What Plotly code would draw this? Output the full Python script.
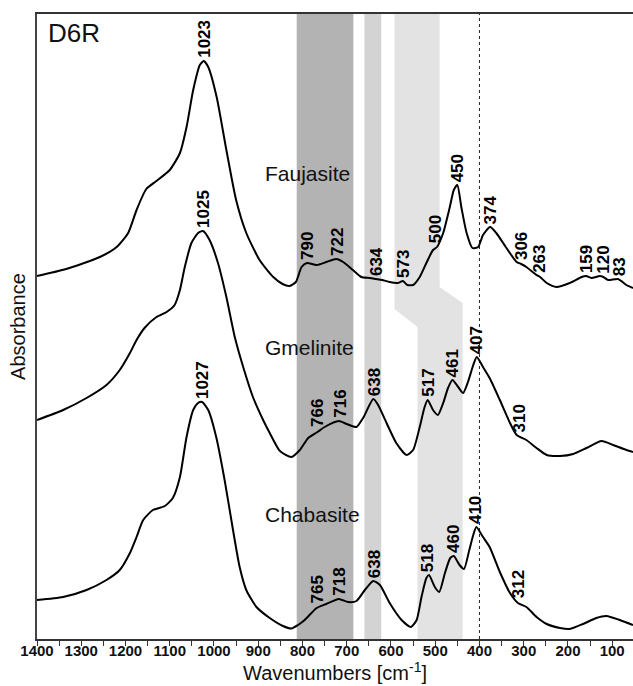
import numpy as np
import plotly.graph_objects as go

# ---------------- data ----------------
wn_fau = [1400, 1334, 1258, 1220, 1194, 1175, 1153, 1130, 1100, 1077, 1062, 1047, 1032, 1023,
          1013, 994, 972, 950, 927, 897, 866, 845, 829, 815, 802, 790, 768, 746, 724, 708,
          686, 667, 648, 634, 620, 603, 585, 573, 563, 550, 535, 520, 505, 496, 482, 467,
          458, 450, 441, 429, 416, 403, 392, 376, 362, 339, 316, 306, 294, 271, 263, 248,
          226, 196, 169, 159, 147, 128, 120, 109, 87, 68, 53]
abs_fau = [3.63, 3.70, 3.82, 3.92, 4.06, 4.29, 4.50, 4.58, 4.69, 4.86, 5.12, 5.49, 5.74, 5.78,
           5.72, 5.42, 4.89, 4.39, 4.06, 3.79, 3.62, 3.55, 3.53, 3.57, 3.72, 3.76, 3.74, 3.77,
           3.80, 3.77, 3.69, 3.62, 3.61, 3.60, 3.59, 3.57, 3.56, 3.58, 3.54, 3.54, 3.62, 3.76,
           3.89, 3.92, 4.06, 4.32, 4.49, 4.54, 4.32, 4.06, 3.91, 3.92, 4.04, 4.12, 4.06, 3.91,
           3.77, 3.75, 3.72, 3.64, 3.62, 3.56, 3.52, 3.56, 3.62, 3.63, 3.61, 3.63, 3.62, 3.59,
           3.60, 3.54, 3.51]

wn_gme = [1400, 1341, 1288, 1243, 1213, 1190, 1175, 1157, 1130, 1107, 1089, 1077, 1066, 1051,
          1036, 1025, 1010, 991, 972, 953, 934, 912, 889, 874, 851, 825, 806, 787, 766, 750,
          718, 700, 678, 663, 640, 629, 610, 588, 565, 550, 535, 524, 517, 505, 494, 482,
          471, 461, 448, 437, 426, 414, 406, 392, 377, 354, 331, 316, 294, 271, 248, 218,
          188, 158, 124, 98, 68, 53]
abs_gme = [2.19, 2.29, 2.41, 2.54, 2.69, 2.86, 2.99, 3.11, 3.22, 3.27, 3.34, 3.49, 3.72, 3.96,
           4.06, 4.08, 3.99, 3.76, 3.42, 3.02, 2.72, 2.42, 2.19, 2.06, 1.88, 1.82, 1.89, 2.01,
           2.07, 2.12, 2.18, 2.15, 2.12, 2.21, 2.40, 2.34, 2.16, 1.96, 1.84, 1.89, 2.12, 2.32,
           2.39, 2.29, 2.24, 2.36, 2.51, 2.59, 2.52, 2.46, 2.57, 2.74, 2.82, 2.72, 2.61, 2.39,
           2.16, 2.04, 1.99, 1.91, 1.84, 1.83, 1.85, 1.91, 1.98, 1.94, 1.89, 1.87]

wn_cha = [1400, 1341, 1288, 1243, 1213, 1190, 1175, 1160, 1138, 1111, 1093, 1077, 1062, 1047,
          1036, 1027, 1013, 995, 976, 957, 942, 927, 904, 874, 844, 825, 810, 795, 768, 746,
          718, 697, 678, 659, 640, 625, 603, 576, 555, 542, 531, 520, 514, 501, 491, 478,
          466, 458, 445, 435, 423, 414, 407, 392, 377, 354, 331, 313, 294, 271, 248, 218,
          196, 166, 136, 113, 83, 53]
abs_cha = [0.39, 0.42, 0.49, 0.59, 0.69, 0.86, 1.02, 1.19, 1.29, 1.33, 1.41, 1.62, 2.02, 2.29,
           2.36, 2.37, 2.29, 2.02, 1.59, 1.09, 0.72, 0.49, 0.32, 0.21, 0.13, 0.105, 0.14, 0.19,
           0.31, 0.35, 0.40, 0.37, 0.38, 0.49, 0.58, 0.54, 0.36, 0.19, 0.12, 0.19, 0.42, 0.61,
           0.64, 0.52, 0.47, 0.66, 0.81, 0.83, 0.74, 0.70, 0.89, 1.04, 1.12, 1.02, 0.92, 0.67,
           0.46, 0.36, 0.32, 0.22, 0.15, 0.11, 0.10, 0.15, 0.21, 0.23, 0.19, 0.14]

peaks_fau = [1023, 790, 722, 634, 573, 500, 450, 374, 306, 263, 159, 120, 83]
peaks_gme = [1025, 766, 716, 638, 517, 461, 407, 310]
peaks_cha = [1027, 765, 718, 638, 518, 460, 410, 312]

series_names = ["Faujasite", "Gmelinite", "Chabasite"]

band_dark = [813, 685]
band_mid = [660, 622]
band_light_upper = [592, 490]
band_light_lower = [540, 438]

x_tick_vals = list(range(100, 1401, 100))
x_tick_text = [str(v) for v in x_tick_vals]
x_minor_vals = list(range(150, 1400, 100))

# ---------------- figure ----------------
FONT = "Arial, 'Liberation Sans', sans-serif"
YMAX = 6.25
fig = go.Figure()

# bands
fig.add_shape(type="rect", xref="x", yref="y", x0=band_dark[0], x1=band_dark[1], y0=0, y1=YMAX,
              fillcolor="#b3b3b3", line_width=0, layer="below")
fig.add_shape(type="rect", xref="x", yref="y", x0=band_mid[0], x1=band_mid[1], y0=0, y1=YMAX,
              fillcolor="#d3d3d3", line_width=0, layer="below")
a, b = band_light_upper
c, d = band_light_lower
path = (f"M {a},{YMAX} L {b},{YMAX} L {b},3.52 L {d},3.36 L {d},0 "
        f"L {c},0 L {c},3.12 L {a},3.30 Z")
fig.add_shape(type="path", xref="x", yref="y", path=path,
              fillcolor="#e3e3e3", line_width=0, layer="below")
fig.add_shape(type="line", xref="x", yref="y", x0=400, x1=400, y0=0, y1=YMAX,
              line=dict(color="#222", width=1, dash="dot"), layer="below")

all_series = [(wn_fau, abs_fau, peaks_fau), (wn_gme, abs_gme, peaks_gme), (wn_cha, abs_cha, peaks_cha)]
for name, (wn, ab, pk) in zip(series_names, all_series):
    fig.add_trace(go.Scatter(x=wn, y=ab, mode="lines", name=name,
                             line=dict(color="black", width=2, shape="spline", smoothing=0.6),
                             showlegend=False, hoverinfo="skip"))
    xs = np.array(wn[::-1], dtype=float)
    ys = np.array(ab[::-1], dtype=float)
    for p in pk:
        grid = np.linspace(p - 5, p + 5, 11)
        yv = float(np.max(np.interp(grid, xs, ys)))
        fig.add_annotation(x=p, y=yv, text=str(p), showarrow=False, textangle=-90,
                           xanchor="center", yanchor="bottom", yshift=1,
                           font=dict(family=FONT, size=17, color="black", weight="bold"))

# series name labels
name_y = [4.66, 2.915, 1.25]
for name, yy in zip(series_names, name_y):
    fig.add_annotation(x=890, y=yy, text=name, showarrow=False, xanchor="left", yanchor="middle",
                       font=dict(family=FONT, size=21, color="#111"))

fig.add_annotation(x=1380, y=6.06, text="D6R", showarrow=False, xanchor="left", yanchor="middle",
                   font=dict(family=FONT, size=26, color="#111"))

fig.update_layout(
    width=633, height=686,
    margin=dict(l=37, r=0, t=14, b=47),
    paper_bgcolor="white", plot_bgcolor="white",
    xaxis=dict(range=[1400, 53], tickmode="array", tickvals=x_tick_vals, ticktext=x_tick_text,
               ticks="outside", ticklen=5, tickwidth=1.3, tickcolor="#333",
               ticklabelstandoff=-8,
               minor=dict(tickmode="array", tickvals=x_minor_vals, ticks="outside",
                          ticklen=5, tickwidth=1.3, tickcolor="#333", showgrid=False),
               showline=True, linecolor="#333", linewidth=1.5, mirror=True,
               showgrid=False, zeroline=False,
               tickfont=dict(family=FONT, size=15, color="#111", weight="bold"),
               title=dict(text="Wavenumbers [cm<sup>-1</sup>]", standoff=0,
                          font=dict(family=FONT, size=20, color="#111"))),
    yaxis=dict(range=[0, YMAX], showticklabels=False, ticks="", showgrid=False, zeroline=False,
               showline=True, linecolor="#444", linewidth=1.5,
               title=dict(text="Absorbance", standoff=4,
                          font=dict(family=FONT, size=20, color="#111"))),
)

fig.write_html("out.html")
